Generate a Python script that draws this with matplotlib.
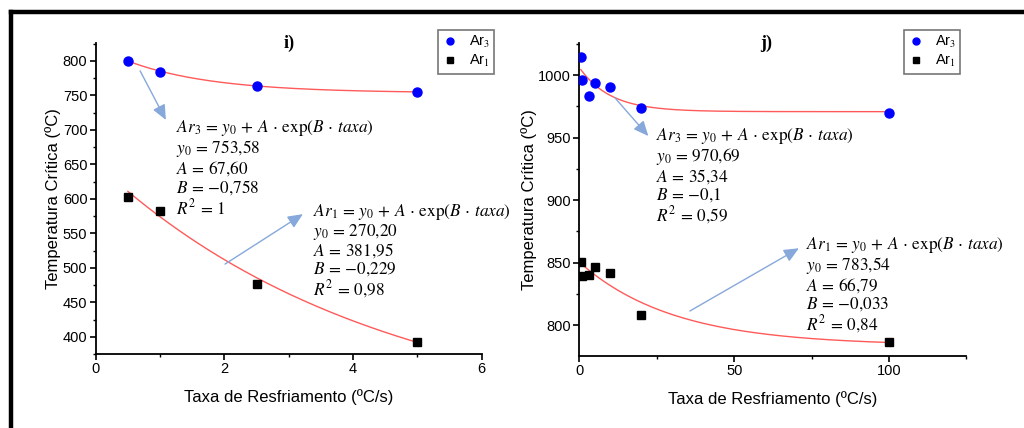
import numpy as np
import matplotlib
matplotlib.use("Agg")
import matplotlib.pyplot as plt
from matplotlib.ticker import MultipleLocator
from matplotlib.lines import Line2D

plt.rcParams['font.family'] = ['Liberation Sans', 'DejaVu Sans']
plt.rcParams['mathtext.fontset'] = 'stix'

# ---- panel i) data ----
i_taxa = [0.5, 1, 2.5, 5]
i_ar3 = [800, 784.5, 763.8, 754.6]
i_ar1 = [603, 583, 477, 392]
i_fit3 = dict(y0=753.58, A=67.60, B=-0.758, R2="1")
i_fit1 = dict(y0=270.20, A=381.95, B=-0.229, R2="0{,}98")

# ---- panel j) data ----
j_taxa3 = [0.5, 1, 3, 5, 10, 20, 100]
j_ar3 = [1014.7, 996, 983.2, 993.3, 990.1, 973.3, 969.3]
j_taxa1 = [0.5, 1, 3, 5, 10, 20, 100]
j_ar1 = [850.7, 839, 840, 846.2, 841.8, 808.2, 786.1]
j_fit3 = dict(y0=970.69, A=35.34, B=-0.1, R2="0{,}59")
j_fit1 = dict(y0=783.54, A=66.79, B=-0.033, R2="0{,}84")

fig = plt.figure(figsize=(10.24, 4.28), dpi=100)

def fmt(v, nd):
    s = f"{abs(v):.{nd}f}".replace(".", "{,}")
    return ("{-}" if v < 0 else "") + s

def eq_text(name, p, nd_y0, nd_A, nd_B):
    lines = [
        r"$%s\,=\,y_0\,+\,A\,\cdot\,\mathrm{exp}(B\,\cdot\,taxa)$" % name,
        r"$y_0\,=\,%s$" % fmt(p['y0'], nd_y0),
        r"$A\,=\,%s$" % fmt(p['A'], nd_A),
        r"$B\,=\,%s$" % fmt(p['B'], nd_B),
        r"$R^2\,=\,%s$" % p['R2'],
    ]
    return "\n".join(lines)

def style_ax(ax):
    for s in ['top', 'right']:
        ax.spines[s].set_visible(False)
    for s in ['left', 'bottom']:
        ax.spines[s].set_linewidth(1.3)
    ax.tick_params(which='major', direction='out', length=4, width=1.2, labelsize=10.5, pad=2)
    ax.tick_params(which='minor', direction='out', length=2.5, width=1.0)

def fitline(ax, p, x0, x1):
    xs = np.linspace(x0, x1, 200)
    ax.plot(xs, p['y0'] + p['A'] * np.exp(p['B'] * xs), color='#ff5a5a', lw=1.0, zorder=2)

arrow_kw = dict(arrowstyle='-|>,head_length=0.9,head_width=0.4', color='#86a8da', lw=1.0,
                shrinkA=0, shrinkB=0)
txt_kw = dict(fontsize=12.4, va='center', linespacing=1.0)

# ---------- left panel ----------
ax1 = fig.add_axes([0.0935, 0.1729, 0.3769, 0.7266])
style_ax(ax1)
fitline(ax1, i_fit3, 0.5, 5)
fitline(ax1, i_fit1, 0.5, 5)
ax1.plot(i_taxa, i_ar3, 'o', color='#0000ff', ms=6.5, zorder=3)
ax1.plot(i_taxa, i_ar1, 's', color='black', ms=5.8, zorder=3)
ax1.set_xlim(0, 6)
ax1.set_ylim(375, 826)
ax1.xaxis.set_major_locator(MultipleLocator(2))
ax1.xaxis.set_minor_locator(MultipleLocator(1))
ax1.yaxis.set_major_locator(MultipleLocator(50))
ax1.yaxis.set_minor_locator(MultipleLocator(25))
ax1.set_xlabel("Taxa de Resfriamento (ºC/s)", fontsize=12, labelpad=9)
ax1.set_ylabel("Temperatura Crítica (ºC)", fontsize=12, labelpad=1)
ax1.annotate("", xy=(1.09, 714.5), xytext=(0.69, 785.5), arrowprops=arrow_kw)
ax1.annotate("", xy=(3.22, 577.8), xytext=(2.01, 505.4), arrowprops=arrow_kw)
ax1.text(1.24, 645, eq_text("Ar_3", i_fit3, 2, 2, 3), **txt_kw)
ax1.text(3.37, 524.6, eq_text("Ar_1", i_fit1, 2, 2, 3), **txt_kw)

# ---------- right panel ----------
ax2 = fig.add_axes([0.5657, 0.1682, 0.3781, 0.7313])
style_ax(ax2)
fitline(ax2, j_fit3, 0.5, 100)
fitline(ax2, j_fit1, 0.5, 100)
ax2.plot(j_taxa3, j_ar3, 'o', color='#0000ff', ms=6.5, zorder=3)
ax2.plot(j_taxa1, j_ar1, 's', color='black', ms=5.8, zorder=3)
ax2.set_xlim(0, 125)
ax2.set_ylim(775.2, 1025.6)
ax2.xaxis.set_major_locator(MultipleLocator(50))
ax2.xaxis.set_minor_locator(MultipleLocator(25))
ax2.yaxis.set_major_locator(MultipleLocator(50))
ax2.yaxis.set_minor_locator(MultipleLocator(25))
ax2.set_xlabel("Taxa de Resfriamento (ºC/s)", fontsize=12, labelpad=9)
ax2.set_ylabel("Temperatura Crítica (ºC)", fontsize=12, labelpad=1)
ax2.annotate("", xy=(22.3, 951.2), xytext=(11.5, 981.8), arrowprops=arrow_kw)
ax2.annotate("", xy=(70.9, 861.4), xytext=(35.7, 811.2), arrowprops=arrow_kw)
ax2.text(24.8, 919.2, eq_text("Ar_3", j_fit3, 2, 2, 1), **txt_kw)
ax2.text(73.1, 832.2, eq_text("Ar_1", j_fit1, 2, 2, 3), **txt_kw)

# titles
fig.text(289 / 1024, 1 - 43 / 428, "i)", fontsize=13, fontweight='bold',
         family='Liberation Serif', ha='center', va='center')
fig.text(766 / 1024, 1 - 43 / 428, "j)", fontsize=13, fontweight='bold',
         family='Liberation Serif', ha='center', va='center')

# legends
handles = [Line2D([], [], ls='none', marker='o', color='#0000ff', ms=5),
           Line2D([], [], ls='none', marker='s', color='black', ms=4.5)]
labels = [r"Ar$_3$", r"Ar$_1$"]
for (x0, x1) in [(438, 496), (904, 960)]:
    leg = fig.legend(handles, labels, loc='upper left',
                     bbox_to_anchor=(x0 / 1024, 1 - 30 / 428), fontsize=10.5,
                     frameon=True, fancybox=False, edgecolor='#555555',
                     handlelength=1.0, handletextpad=0.8, borderpad=0.3,
                     labelspacing=0.2, borderaxespad=0)
    leg.get_frame().set_linewidth(1.2)

# outer frame lines (top and left)
fig.add_artist(Line2D([11 / 1024, 1.0], [1 - 11.5 / 428, 1 - 11.5 / 428],
                      transform=fig.transFigure, color='black', lw=3.2))
fig.add_artist(Line2D([11 / 1024, 11 / 1024], [0, 1 - 11.5 / 428],
                      transform=fig.transFigure, color='black', lw=3.2))

fig.savefig("out.png", dpi=100)
